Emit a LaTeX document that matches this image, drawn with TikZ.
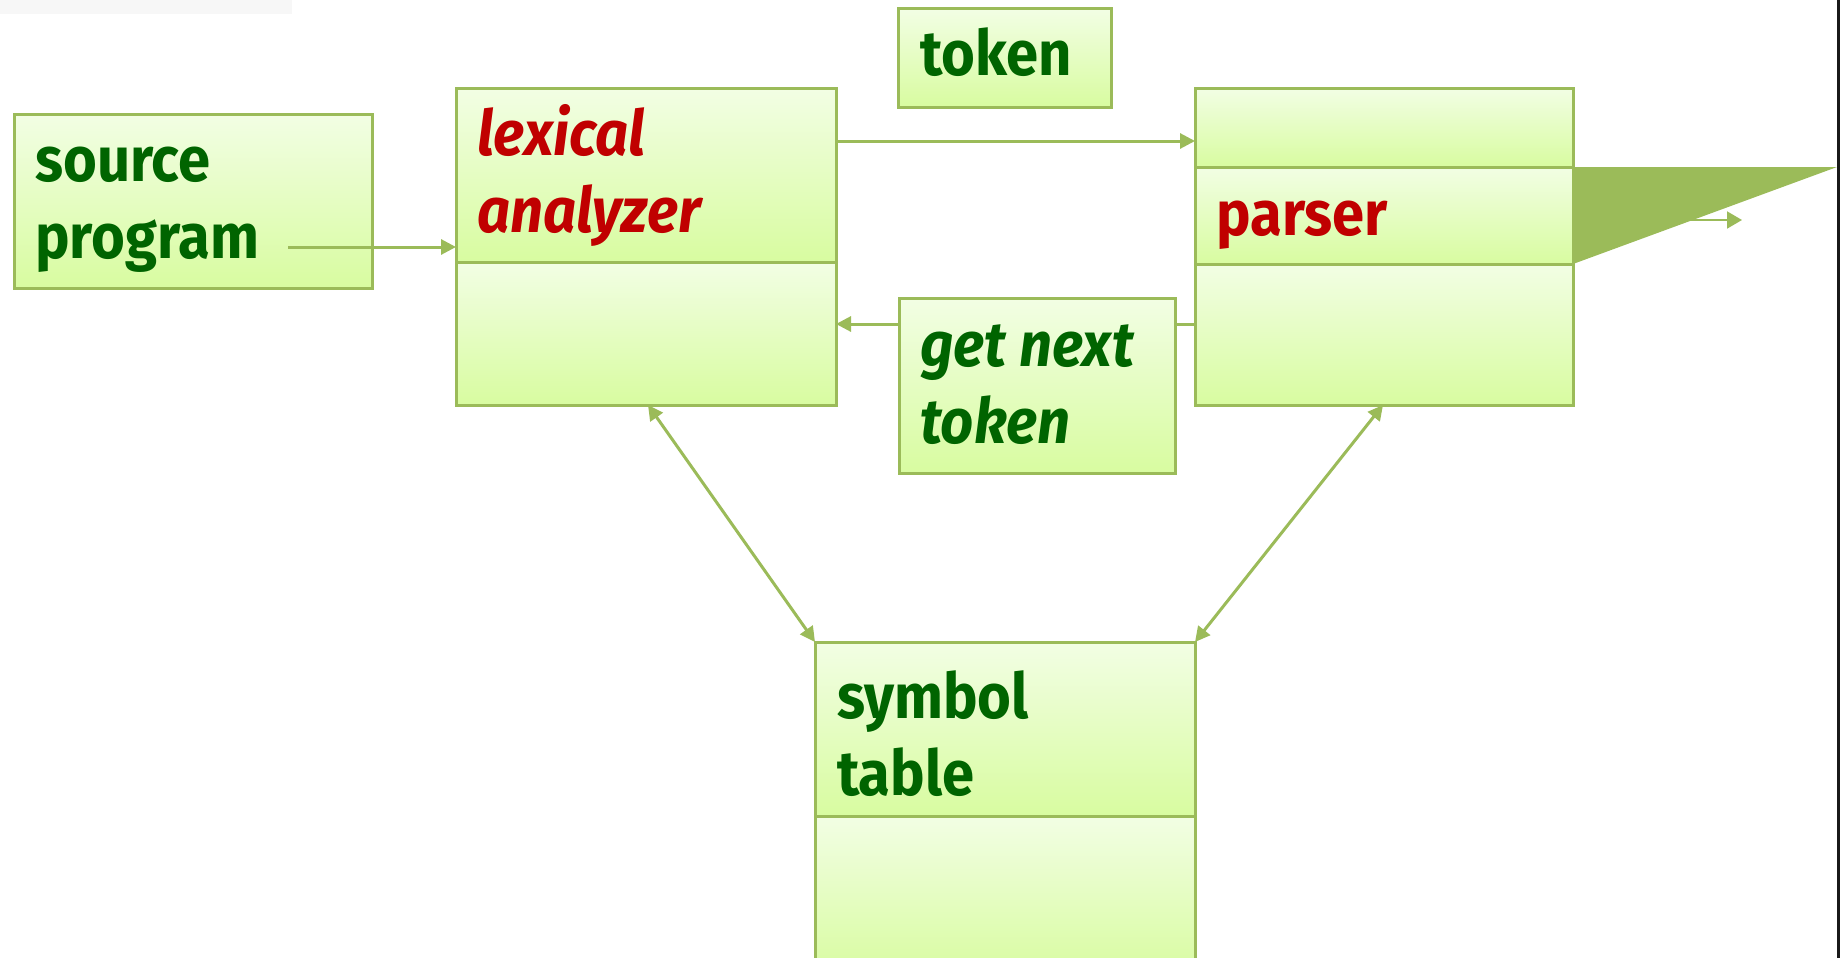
\documentclass[tikz,border=0pt]{standalone}
\usepackage{fontspec}
\setmainfont{Fira Sans}[FakeStretch=0.92]
\usetikzlibrary{arrows.meta}
\definecolor{boxc}{HTML}{9BBB59}
\definecolor{topc}{RGB}{242,254,228}
\definecolor{botc}{RGB}{216,252,160}
\definecolor{txtg}{RGB}{0,100,0}
\definecolor{txtr}{RGB}{192,0,0}
\begin{document}
\begin{tikzpicture}[x=1pt,y=-1pt,
  sec/.style={rectangle,draw=boxc,line width=3pt,top color=topc,bottom color=botc,
    inner sep=0pt,outer sep=0pt,anchor=north west},
  lbl/.style={anchor=base west,inner sep=0pt,align=left,
    font=\fontsize{63}{77}\selectfont\bfseries,text=txtg},
  red/.style={text=txtr},
  conn/.style={draw=boxc,line width=3pt},
  tipend/.style={-{Triangle[length=15pt,width=15pt]}},
  tipboth/.style={{Triangle[length=15pt,width=15pt]}-{Triangle[length=15pt,width=15pt]}}
]
\useasboundingbox (0,0) rectangle (1842,958);
\clip (0,0) rectangle (1842,958);
\fill[black!3] (0,0) rectangle (292,14);

% boxes
\node[sec,minimum width=358pt,minimum height=174pt] (src) at (14,114) {};
\node[sec,minimum width=380pt,minimum height=174pt] (lexA) at (456,88) {};
\node[sec,minimum width=380pt,minimum height=143pt] (lexB) at (456,262) {};
\node[sec,minimum width=213pt,minimum height=98pt] (tok) at (898,9) {};
\node[sec,minimum width=378pt,minimum height=79pt] (parA) at (1195,88) {};
\node[sec,minimum width=378pt,minimum height=97pt] (parB) at (1195,167) {};
\node[sec,minimum width=378pt,minimum height=141pt] (parC) at (1195,264) {};
\node[sec,minimum width=276pt,minimum height=175pt] (gnt) at (899,298) {};
\node[sec,minimum width=380pt,minimum height=174pt] (symA) at (815,642) {};
\node[sec,minimum width=380pt,minimum height=160pt] (symB) at (815,816) {};

% texts (anchor = baseline of last line)
\node[lbl] (tsrc) at (35,258) {source\\program};
\node[lbl,red] (tlex) at (477,232) {\itshape lexical\\\itshape analyzer};
\node[lbl] (ttok) at (920,75) {token};
\node[lbl,red] (tpar) at (1216,235) {parser};
\node[lbl] (tgnt) at (920,443) {\itshape get next\\\itshape token};
\node[lbl] (tsym) at (837,795) {symbol\\table};

% connectors
\coordinate (srcstart) at (288,247);
\draw[conn,tipend] (srcstart) -- (lexA.west |- srcstart);
\draw[conn,tipend] (lexA.east |- 0,141) -- (parA.west |- 0,141);
\draw[conn,tipend] (gnt.west |- 0,324) -- (lexB.east |- 0,324);
\draw[conn] (parC.west |- 0,324) -- (gnt.east |- 0,324);
\draw[conn,tipboth] (lexB.south -| 648,0) -- (symA.north west);
\draw[conn,tipboth] (parC.south -| 1383,0) -- (symA.north east);

\coordinate (outend) at (1742,220);
\draw[draw=boxc,line width=2pt,-{Triangle[length=15pt,width=17pt]}] (parB.east |- outend) -- (outend);
\coordinate (apex) at (1837,167);
\fill[boxc] (parB.north east) -- (apex) -- (parB.south east) -- cycle;

\draw[line width=3pt,black!90] (1838,0) -- (1838,958);
\end{tikzpicture}
\end{document}
